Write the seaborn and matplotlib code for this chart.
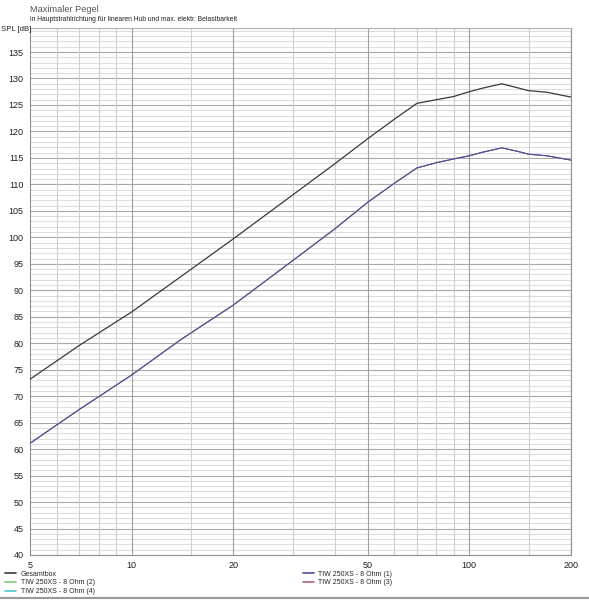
import matplotlib
matplotlib.use("Agg")
import matplotlib.pyplot as plt
from matplotlib.ticker import FixedLocator, NullFormatter
import seaborn as sns
import pandas as pd

# Frequenz [Hz]
freq = [5, 7, 10, 14, 20, 30, 40, 50, 60, 70, 80, 90, 100, 110, 125, 140, 150, 170, 200]

# SPL [dB]
gesamtbox = [73.2, 79.6, 85.9, 92.6, 99.7, 108.0, 113.9, 118.6, 122.3, 125.3,
             126.0, 126.6, 127.5, 128.2, 129.0, 128.2, 127.7, 127.4, 126.5]
tiw = [61.1, 67.5, 74.0, 80.7, 87.2, 95.6, 101.6, 106.6, 110.2, 113.1,
       114.1, 114.8, 115.4, 116.1, 116.9, 116.2, 115.7, 115.4, 114.6]

series_names = ["Gesamtbox", "TIW 250XS - 8 Ohm (2)", "TIW 250XS - 8 Ohm (4)",
                "TIW 250XS - 8 Ohm (3)", "TIW 250XS - 8 Ohm (1)"]
series_values = [gesamtbox, tiw, tiw, tiw, tiw]
colors = {
    "Gesamtbox": "#3a3a3a",
    "TIW 250XS - 8 Ohm (1)": "#5048a0",
    "TIW 250XS - 8 Ohm (2)": "#7cc87c",
    "TIW 250XS - 8 Ohm (3)": "#b0607a",
    "TIW 250XS - 8 Ohm (4)": "#40c8d0",
}

yticks = list(range(40, 140, 5))
xticks = [5, 10, 20, 50, 100, 200]
xgrid_minor = [6, 7, 8, 9, 15, 30, 40, 60, 70, 80, 90, 150]

rows = []
for name, vals in zip(series_names, series_values):
    for f, v in zip(freq, vals):
        rows.append({"f": f, "spl": v, "serie": name})
df = pd.DataFrame(rows)

sns.set_style("white")
plt.rcParams["font.family"] = ["Liberation Sans", "DejaVu Sans"]

fig = plt.figure(figsize=(5.89, 6.0), dpi=100)
ax = fig.add_axes([0.051, 0.075, 0.918, 0.878])

# grid
for y in range(40, 140):
    major = y % 5 == 0
    ax.axhline(y, color="#a8a8a8" if major else "#dedede", lw=0.8, zorder=0)
for x in xgrid_minor:
    ax.axvline(x, color="#cfcfcf", lw=0.8, zorder=0)
for x in xticks[1:]:
    ax.axvline(x, color="#a0a0a0", lw=0.8, zorder=0)

# the four TIW curves lie on top of each other, (1) ends up on top
tiw_df = df[df["serie"] != "Gesamtbox"]
sns.lineplot(data=tiw_df, x="f", y="spl", hue="serie", hue_order=series_names[1:],
             palette=colors, lw=0.7, ax=ax, legend=False, zorder=3)
sns.lineplot(data=df[df["serie"] == "Gesamtbox"], x="f", y="spl",
             color=colors["Gesamtbox"], lw=0.9, ax=ax, zorder=4)

ax.set_xscale("log")
ax.set_xlim(5, 200)
ax.set_ylim(40, 139.5)
ax.xaxis.set_major_locator(FixedLocator(xticks))
ax.xaxis.set_minor_locator(FixedLocator([]))
ax.set_xticklabels([str(x) for x in xticks])
ax.xaxis.set_minor_formatter(NullFormatter())
ax.set_yticks(yticks)
ax.set_xlabel("")
ax.set_ylabel("")
ax.tick_params(axis="both", labelsize=6.5, colors="#555555", length=3, width=0.8,
               labelcolor="#222222", pad=1.5, direction="out")
for s in ["left", "bottom", "right"]:
    ax.spines[s].set_color("#909090")
    ax.spines[s].set_linewidth(0.8)
ax.spines["top"].set_color("#b0b0b0")
ax.spines["top"].set_linewidth(0.8)

fig.text(0.051, 0.984, "Maximaler Pegel", fontsize=6.6, color="#555555", va="center")
fig.text(0.051, 0.968, "in Hauptstrahlrichtung für linearen Hub und max. elektr. Belastbarkeit",
         fontsize=4.9, color="#222222", va="center")
fig.text(0.002, 0.951, "SPL [dB]", fontsize=5.6, color="#222222", va="center")

# legend in two columns below the axes
left = ["Gesamtbox", "TIW 250XS - 8 Ohm (2)", "TIW 250XS - 8 Ohm (4)"]
right = ["TIW 250XS - 8 Ohm (1)", "TIW 250XS - 8 Ohm (3)"]
for names, x0 in [(left, 0.009), (right, 0.514)]:
    handles = [plt.Line2D([], [], color=colors[n], lw=1.2) for n in names]
    fig.legend(handles, names, loc="upper left", bbox_to_anchor=(x0, 0.049),
               frameon=False, fontsize=5.0, handlelength=1.6, handletextpad=0.6,
               labelspacing=0.25, borderpad=0, borderaxespad=0)

fig.add_artist(plt.Line2D([0, 1], [0.004, 0.004], color="#9a9a9a", lw=1.5,
                          transform=fig.transFigure))

fig.savefig("out.png", dpi=100, facecolor="white")
